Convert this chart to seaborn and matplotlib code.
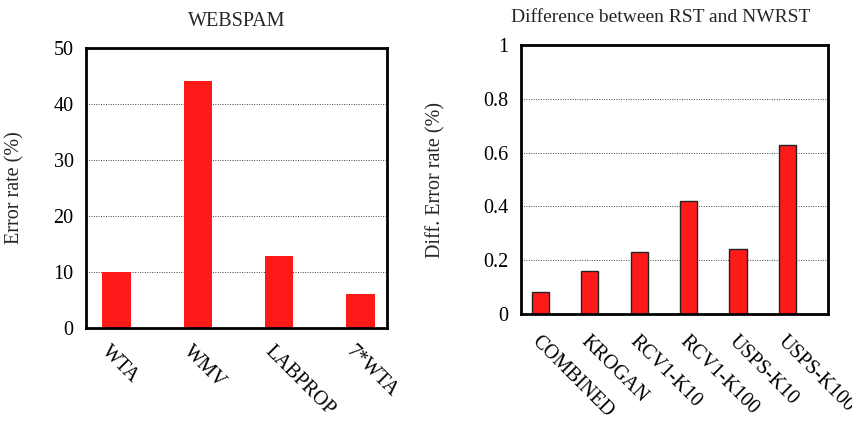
import matplotlib
matplotlib.use("Agg")
import matplotlib.pyplot as plt
import matplotlib.transforms as mtransforms
import seaborn as sns
import pandas as pd
import numpy as np

# Data
left_categories = ["WTA", "WMV", "LABPROP", "7*WTA"]
left_values = [10.0, 44.1, 12.8, 6.0]
left_yticks = [0, 10, 20, 30, 40, 50]

right_categories = ["COMBINED", "KROGAN", "RCV1-K10", "RCV1-K100", "USPS-K10", "USPS-K100"]
right_values = [0.08, 0.16, 0.23, 0.42, 0.24, 0.63]
right_yticks = [0, 0.2, 0.4, 0.6, 0.8, 1]
right_yticklabels = ["0", "0.2", "0.4", "0.6", "0.8", "1"]

sns.set_theme(style="white")
plt.rcParams["font.family"] = ["Liberation Serif", "DejaVu Serif"]

RED = "#ff1a1a"
FS = 14.5

fig = plt.figure(figsize=(8.52, 4.26), dpi=100)
ax1 = fig.add_axes([0.101, 0.230, 0.353, 0.657])
ax2 = fig.add_axes([0.6115, 0.263, 0.3607, 0.631])

BW = 0.35


def style(ax, n, xlim, ylim, yticks, yticklabels, cats, xpad):
    ax.set_ylim(*ylim)
    ax.set_xlim(*xlim)
    ax.set_yticks(yticks)
    ax.set_yticklabels(yticklabels, fontsize=FS)
    ax.set_xticks([i - BW / 2 for i in range(n)])
    ax.set_xticklabels(cats, rotation=-45, ha="left", va="top",
                       rotation_mode="anchor", fontsize=FS)
    ax.set_xlabel("")
    for s in ax.spines.values():
        s.set_linewidth(2.0)
        s.set_color("black")
    ax.tick_params(axis="both", which="major", direction="out", length=5,
                   width=2.0, colors="black", labelsize=FS)
    ax.tick_params(axis="x", pad=xpad)
    ax.tick_params(axis="y", pad=4)
    ax.yaxis.grid(True, linestyle=(0, (1, 1.5)), color="#444444", linewidth=0.7)
    ax.xaxis.grid(False)
    ax.set_axisbelow(True)
    off = mtransforms.ScaledTranslation(9 / 100, 0, fig.dpi_scale_trans)
    for lab in ax.get_xticklabels():
        lab.set_transform(lab.get_transform() + off)


df1 = pd.DataFrame({"cat": left_categories, "val": left_values})
sns.barplot(data=df1, x="cat", y="val", ax=ax1, color=RED, saturation=1,
            width=BW, linewidth=0, edgecolor=RED)
style(ax1, len(left_categories), (-0.375, 3.325), (0, 50), left_yticks,
      [str(v) for v in left_yticks], left_categories, 5)
ax1.set_ylabel("Error rate (%)", fontsize=FS, labelpad=21)
ax1.set_title("WEBSPAM", fontsize=FS, pad=16)

df2 = pd.DataFrame({"cat": right_categories, "val": right_values})
sns.barplot(data=df2, x="cat", y="val", ax=ax2, color=RED, saturation=1,
            width=BW, linewidth=1.0, edgecolor="#222222")
style(ax2, len(right_categories), (-0.392, 5.825), (0, 1), right_yticks,
      right_yticklabels, right_categories, 8)
ax2.set_ylabel("Diff. Error rate (%)", fontsize=FS, labelpad=27)
ax2.set_title("Difference between RST and NWRST", fontsize=14, pad=17, x=0.456)

fig.savefig("out.png", dpi=100)
